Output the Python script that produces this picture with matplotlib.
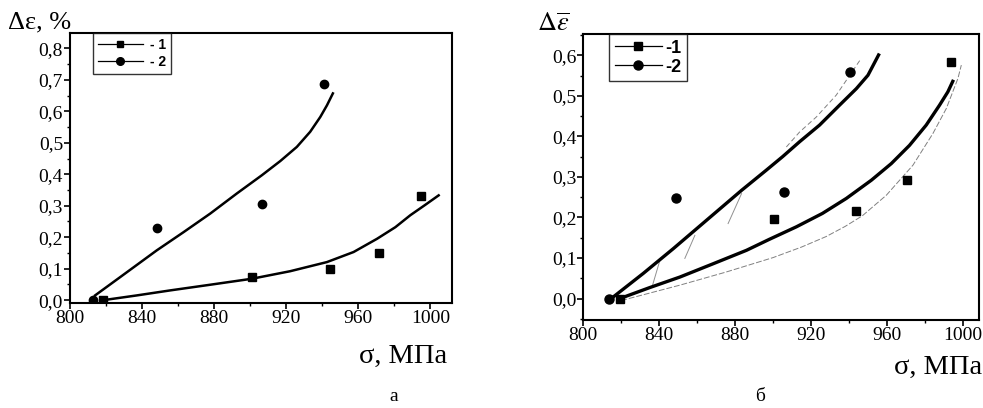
import numpy as np
import matplotlib
matplotlib.use('Agg')
import matplotlib.pyplot as plt
from matplotlib.ticker import MultipleLocator, FuncFormatter

plt.rcParams['font.family'] = ['Liberation Serif', 'DejaVu Serif']
plt.rcParams['mathtext.fontset'] = 'stix'

# --- panel а: experimental points ---
a_sq_x = [818.5, 900.9, 944.1, 971.3, 994.8]
a_sq_y = [0.0, 0.075, 0.100, 0.151, 0.331]
a_ci_x = [813.0, 848.2, 906.5, 941.1]
a_ci_y = [0.0, 0.229, 0.304, 0.686]
# fitted curves
a_fit1_x = [818.5, 837.0, 855.6, 877.8, 900.9, 922.2, 942.6, 957.4, 970.4, 980.6, 988.9, 997.2, 1004.6]
a_fit1_y = [0.0, 0.015, 0.031, 0.049, 0.068, 0.092, 0.121, 0.153, 0.195, 0.232, 0.270, 0.303, 0.333]
a_fit2_x = [813.9, 827.8, 848.1, 863.0, 877.8, 892.6, 906.5, 916.7, 925.9, 933.3, 938.9, 942.6, 945.9]
a_fit2_y = [0.015, 0.073, 0.158, 0.216, 0.275, 0.339, 0.397, 0.442, 0.487, 0.535, 0.582, 0.619, 0.657]

# --- panel б ---
b_sq_x = [819.3, 900.5, 943.5, 970.4, 994.0]
b_sq_y = [0.0, 0.196, 0.216, 0.292, 0.583]
b_ci_x = [813.7, 848.6, 906.0, 940.7]
b_ci_y = [0.0, 0.248, 0.262, 0.558]
b_fit1_x = [819.3, 835.0, 850.9, 868.0, 886.0, 898.0, 912.3, 926.0, 938.6, 951.8,
            962.3, 971.9, 980.7, 987.7, 992.1, 994.7]
b_fit1_y = [0.0, 0.027, 0.053, 0.085, 0.119, 0.146, 0.177, 0.210, 0.247, 0.292,
            0.333, 0.378, 0.428, 0.477, 0.510, 0.536]
b_fit2_x = [815.0, 831.6, 847.4, 864.9, 883.4, 896.5, 905.0, 914.0, 924.5, 935.0,
            943.9, 950.0, 955.6]
b_fit2_y = [0.001, 0.062, 0.123, 0.193, 0.267, 0.317, 0.350, 0.387, 0.428, 0.477,
            0.518, 0.551, 0.601]
# thin grey curves / dashes
b_thin1_x = [820.0, 850.9, 875.0, 900.0, 915.0, 928.0, 938.0, 947.0, 959.7, 973.7, 984.2, 991.3, 997.4, 999.2]
b_thin1_y = [-0.005, 0.033, 0.065, 0.101, 0.127, 0.153, 0.178, 0.204, 0.255, 0.329, 0.407, 0.469, 0.543, 0.576]
b_thin2_x = [907.0, 914.0, 922.8, 933.3, 946.5]
b_thin2_y = [0.374, 0.411, 0.448, 0.502, 0.593]
b_dash_x = [883.4, 876.3, np.nan, 858.8, 853.5, np.nan, 840.4, 836.5]
b_dash_y = [0.259, 0.185, np.nan, 0.156, 0.099, np.nan, 0.095, 0.033]

comma = FuncFormatter(lambda v, p: f'{v:.1f}'.replace('.', ','))

fig = plt.figure(figsize=(9.83, 4.08), dpi=100)
ax1 = fig.add_axes([0.0712, 0.2566, 0.3886, 0.6618])
ax2 = fig.add_axes([0.5934, 0.2157, 0.4025, 0.7002])

ax1.plot(a_fit1_x, a_fit1_y, color='black', lw=1.8)
ax1.plot(a_fit2_x, a_fit2_y, color='black', lw=1.8)
ax1.plot(a_sq_x, a_sq_y, 's', color='black', ms=5.5)
ax1.plot(a_ci_x, a_ci_y, 'o', color='black', ms=6)
ax1.set_xlim(800, 1012)
ax1.set_ylim(-0.01, 0.848)

ax2.plot(b_thin1_x, b_thin1_y, color='#808080', lw=0.7, ls=(0, (6, 2)))
ax2.plot(b_thin2_x, b_thin2_y, color='#808080', lw=0.7, ls=(0, (5, 3)))
ax2.plot(b_dash_x, b_dash_y, color='#909090', lw=0.7)
ax2.plot(b_fit1_x, b_fit1_y, color='black', lw=2.4)
ax2.plot(b_fit2_x, b_fit2_y, color='black', lw=2.4)
ax2.plot(b_sq_x, b_sq_y, 's', color='black', ms=6)
ax2.plot(b_ci_x, b_ci_y, 'o', color='black', ms=6.5)
ax2.set_xlim(800, 1008.5)
ax2.set_ylim(-0.053, 0.652)

for ax in (ax1, ax2):
    ax.xaxis.set_major_locator(MultipleLocator(40))
    ax.xaxis.set_minor_locator(MultipleLocator(20))
    ax.yaxis.set_major_locator(MultipleLocator(0.1))
    ax.yaxis.set_minor_locator(MultipleLocator(0.05))
    ax.yaxis.set_major_formatter(comma)
    for s in ax.spines.values():
        s.set_linewidth(1.5)
    ax.tick_params(which='major', direction='out', length=4, width=1.2, labelsize=14, pad=1)
    ax.tick_params(which='minor', direction='out', length=2.5, width=1)

# legends drawn like the original (line with marker)
h1a, = ax1.plot([], [], '-s', color='black', ms=5, lw=0.9)
h2a, = ax1.plot([], [], '-o', color='black', ms=5.5, lw=0.9)
leg1 = ax1.legend([h1a, h2a], ['- 1', '- 2'], loc='upper left', bbox_to_anchor=(0.061, 1.0),
                  borderaxespad=0, frameon=True, fancybox=False, edgecolor='black',
                  handlelength=3.2, borderpad=0.35, labelspacing=0.2, handletextpad=0.5,
                  prop={'family': 'Liberation Sans', 'weight': 'bold', 'size': 10})
leg1.get_frame().set_linewidth(1.0)

h1b, = ax2.plot([], [], '-s', color='black', ms=6, lw=0.9)
h2b, = ax2.plot([], [], '-o', color='black', ms=6.5, lw=0.9)
leg2 = ax2.legend([h1b, h2b], ['-1', '-2'], loc='upper left', bbox_to_anchor=(0.066, 1.0),
                  borderaxespad=0, frameon=True, fancybox=False, edgecolor='black',
                  handlelength=2.6, borderpad=0.3, labelspacing=0.1, handletextpad=0.2,
                  prop={'family': 'Liberation Sans', 'weight': 'bold', 'size': 13})
leg2.get_frame().set_linewidth(1.0)

fig.text(0.008, 0.946, 'Δε, %', fontsize=19, ha='left', va='center')
fig.text(0.546, 0.94, r'$\Delta\overline{\varepsilon}$', fontsize=19, ha='left', va='center')
fig.text(0.455, 0.127, 'σ, МПа', fontsize=20.5, ha='right', va='center')
fig.text(0.999, 0.10, 'σ, МПа', fontsize=20.5, ha='right', va='center')
fig.text(0.400, 0.027, 'а', fontsize=14, ha='center', va='center')
fig.text(0.773, 0.027, 'б', fontsize=14, ha='center', va='center')

fig.savefig('out.png', dpi=100)
